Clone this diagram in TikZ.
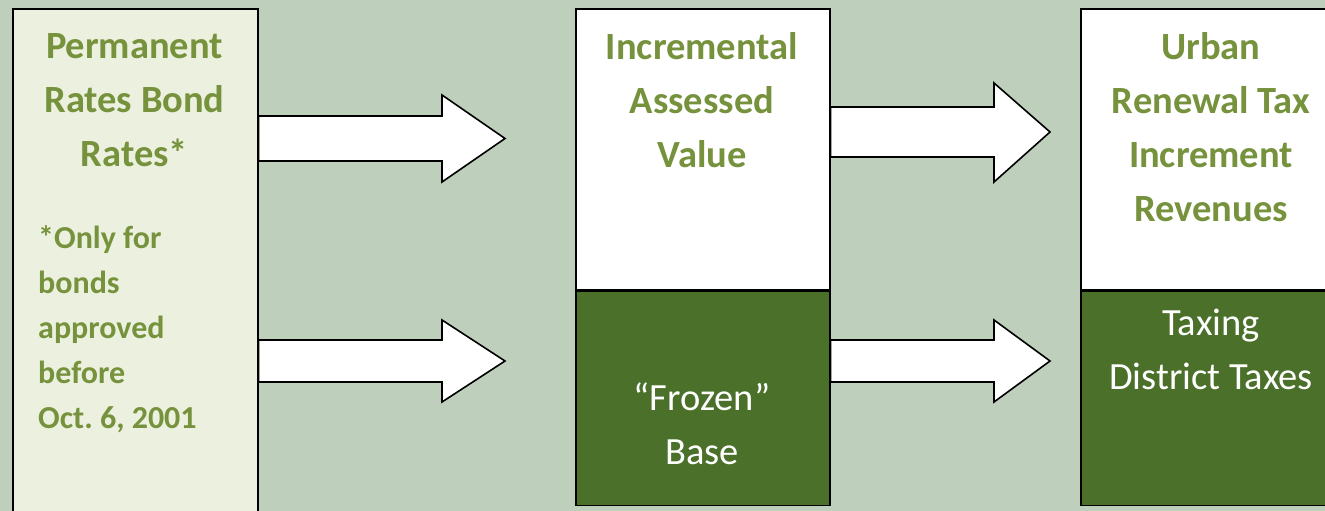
\documentclass[tikz,border=0pt]{standalone}
\usepackage{fontspec}
\setmainfont{Carlito}
\usetikzlibrary{positioning, calc}

\definecolor{sage}{RGB}{190,208,188}
\definecolor{palegreen}{RGB}{235,241,222}
\definecolor{olivetext}{RGB}{118,146,60}
\definecolor{darkolive}{RGB}{74,112,41}

\tikzset{
  box/.style={draw=black, line width=1.6pt, anchor=north west, inner sep=0pt},
  blockarrow/.style={draw=black, fill=white, line width=1.6pt, line join=miter},
  headtext/.style={text=olivetext, font=\fontsize{38.5}{54}\selectfont\bfseries, align=center, inner sep=0pt},
  notetext/.style={text=olivetext, font=\fontsize{32}{45}\selectfont\bfseries, align=left, inner sep=0pt},
  basetext/.style={text=white, font=\fontsize{38.5}{54}\selectfont, align=center, inner sep=0pt},
}

\begin{document}
\begin{tikzpicture}[x=1pt, y=-1pt]
    \fill[sage] (0,0) rectangle (1325,511);
    \useasboundingbox (0,0) rectangle (1325,511);

    % the three columns
    \node[box, fill=palegreen, minimum width=245pt, minimum height=520pt] (perm) at (12,8) {};
    \node[box, fill=white, minimum width=254pt, minimum height=281pt] (incr) at (575,8) {};
    \node[box, fill=darkolive, minimum width=254pt, minimum height=214pt] (frozen) at (incr.south west) {};
    \node[box, fill=white, minimum width=262pt, minimum height=281pt] (urt) at (1080,8) {};
    \node[box, fill=darkolive, minimum width=262pt, minimum height=214pt] (taxing) at (urt.south west) {};

    % block arrows
    \filldraw[blockarrow] (perm.east |- 0,116) -- (442,116) -- (442,95) -- (505,138.5)
        -- (442,182) -- (442,161) -- (perm.east |- 0,161) -- cycle;
    \filldraw[blockarrow] (perm.east |- 0,340) -- (442,340) -- (442,320) -- (505,361)
        -- (442,402) -- (442,382) -- (perm.east |- 0,382) -- cycle;
    \filldraw[blockarrow] (incr.east |- 0,107) -- (994,107) -- (994,83) -- (1050,132)
        -- (994,182) -- (994,157) -- (incr.east |- 0,157) -- cycle;
    \filldraw[blockarrow] (frozen.east |- 0,340) -- (994,340) -- (994,320) -- (1050,361)
        -- (994,402) -- (994,382) -- (frozen.east |- 0,382) -- cycle;

    % labels (base = baseline of the last line)
    \node[headtext, anchor=base] (permlbl) at (134.5,166) {Permanent\\Rates Bond\\Rates*};
    \node[notetext, anchor=base west] (notelbl) at (38,428.5) {*Only for\\bonds\\approved\\before\\Oct.\ 6, 2001};
    \node[headtext, anchor=base] (incrlbl) at (702,167) {Incremental\\Assessed\\Value};
    \node[basetext, anchor=base] (frozenlbl) at (702,464) {“Frozen”\\Base};
    \node[headtext, anchor=base] (urtlbl) at (1211,221) {Urban\\Renewal Tax\\Increment\\Revenues};
    \node[basetext, anchor=base] (taxinglbl) at (1211,389) {Taxing\\District Taxes};
\end{tikzpicture}
\end{document}
